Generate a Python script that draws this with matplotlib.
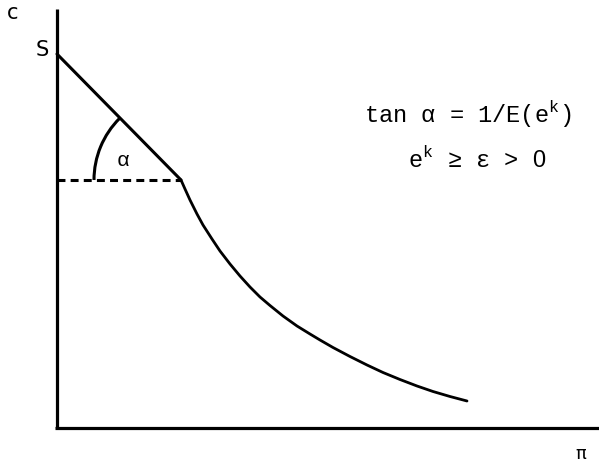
import matplotlib
matplotlib.use("Agg")
import matplotlib.pyplot as plt
from matplotlib.patches import Arc

plt.rcParams['mathtext.fontset'] = 'custom'
plt.rcParams['mathtext.rm'] = 'Liberation Mono'
plt.rcParams['mathtext.sf'] = 'Liberation Sans'

# coordinates (origin at the axes corner)
s_value = 374
kink = (124, 248)
curve_x = [124, 128, 133, 140, 146, 155, 163, 173, 183, 193, 203, 213, 226,
           240, 253, 263, 276, 293, 310, 326, 343, 360, 376, 393, 410]
curve_y = [248, 239, 228, 214, 203, 189, 177, 164, 152, 141, 131, 122.5, 112,
           102, 94, 88, 80.5, 71.5, 63, 55.5, 48.5, 42, 36.5, 31.5, 27]
arc_radius = 87
alpha_deg = 45

fig = plt.figure(figsize=(5.99, 4.64), dpi=100)
ax = fig.add_axes([0, 0, 1, 1])
ax.set_xlim(-57, 542)
ax.set_ylim(-35, 429)
ax.axis('off')

axis_lw = 2.3
# axes
ax.plot([0, 0], [0, 419], color='black', lw=axis_lw, solid_capstyle='butt')
ax.plot([-2, 542], [0, 0], color='black', lw=axis_lw, solid_capstyle='butt')

# straight segment from S to the kink
ax.plot([0, kink[0]], [s_value, kink[1]], color='black', lw=2.2,
        solid_capstyle='round')
# dashed horizontal
ax.plot([0, kink[0]], [kink[1], kink[1]], color='black', lw=2.2,
        linestyle=(0, (2.6, 1.7)), dash_capstyle='butt')
# curve
ax.plot(curve_x, curve_y, color='black', lw=2.0, solid_capstyle='round',
        solid_joinstyle='round')

# angle arc
ax.add_patch(Arc(kink, 2 * arc_radius, 2 * arc_radius,
                 theta1=180 - alpha_deg, theta2=180, color='black', lw=2.2))

mono = ['Liberation Mono', 'DejaVu Sans Mono']
sans = ['DejaVu Sans']
ax.text(66, 268, 'α', fontsize=15, family=mono, ha='center', va='center')
ax.text(-44, 416, 'c', fontsize=15, family=sans, ha='center', va='center')
ax.text(-15, 379, 'S', fontsize=15, family=sans, ha='center', va='center')
ax.text(524, -25, 'π', fontsize=13, family=sans, ha='center', va='center')

ax.text(411, 306, r'tan α = 1/E(e$^{\mathrm{k}}$)', fontsize=17, family=mono,
        ha='center', va='baseline')
ax.text(420, 261, r'e$^{\mathrm{k}}$ ≥ ε > $\mathsf{0}$', fontsize=17, family=mono,
        ha='center', va='baseline')

fig.savefig('out.png', dpi=100)
